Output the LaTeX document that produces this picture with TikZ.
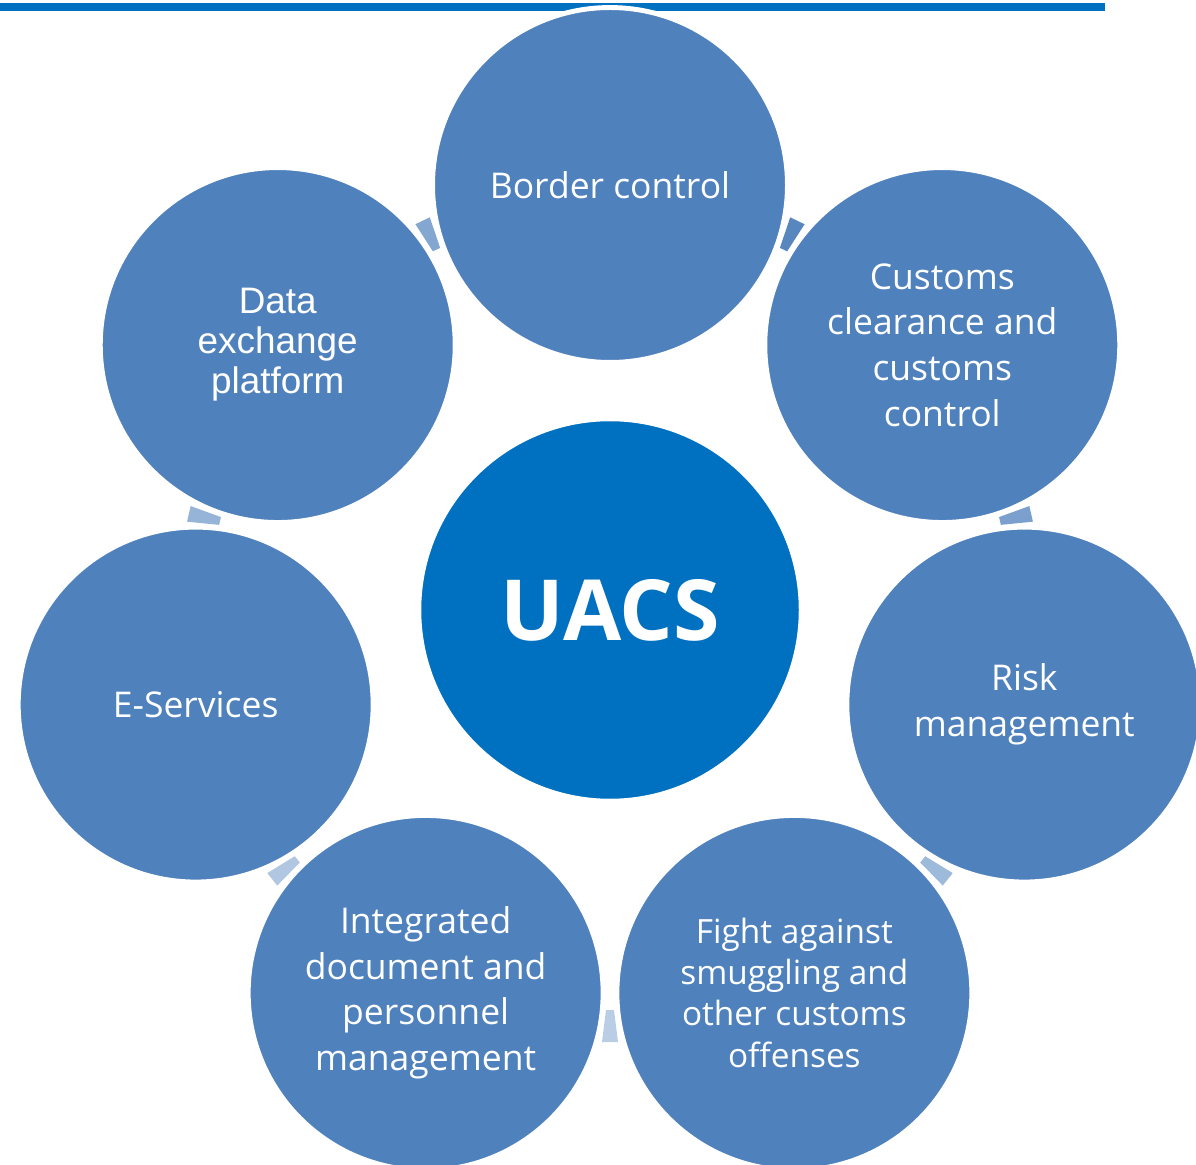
\documentclass[tikz,border=0pt]{standalone}
\usepackage{fontspec}
\setmainfont{Open Sans}
\newfontfamily\arialfont{Liberation Sans}
\usepackage{tikz}
\usetikzlibrary{calc}
\definecolor{ringblue}{HTML}{4F81BD}
\definecolor{hubblue}{HTML}{0070C0}

\begin{document}
\begin{tikzpicture}[x=0.02cm,y=0.02cm]
    \tikzstyle{every node}=[text=white, align=center]
    \tikzstyle{topic}=[circle, fill=ringblue, draw=white, line width=2.8pt, minimum size=7.1cm, inner sep=0pt, font=\fontsize{20.2}{26}\selectfont]
    \useasboundingbox (0,0) rectangle (1196,1164);
    \fill[hubblue] (0,1153) rectangle (1105,1161);
    \node[circle, fill=hubblue, draw=white, line width=2.8pt, minimum size=7.65cm, inner sep=0pt, font=\fontsize{48}{48}\selectfont\bfseries] (hub) at (610,554) {UACS};
    \foreach \a/\c in {64.29/95, 12.86/75, -38.57/55, -90/40, -141.43/45, 167.14/60, 115.71/70}
        \fill[ringblue!\c] ($(hub)+(\a:400)+(\a+90:4)$) -- ($(hub)+(\a:432)+(\a+90:8)$)
            -- ($(hub)+(\a:432)+(\a-90:8)$) -- ($(hub)+(\a:400)+(\a-90:4)$) -- cycle;
    \node[topic] (border) at ($(hub)+(90:425)$) {Border control};
    \node[topic] (clear) at ($(hub)+(38.57:425)$) {Customs\\clearance and\\customs\\control};
    \node[topic] (risk) at ($(hub)+(-12.86:425)$) {Risk\\management};
    \node[topic, font=\fontsize{19}{23.4}\selectfont] (fight) at ($(hub)+(-64.29:425)$) {Fight against\\smuggling and\\other customs\\offenses};
    \node[topic] (docs) at ($(hub)+(-115.71:425)$) {Integrated\\document and\\personnel\\management};
    \node[topic] (eserv) at ($(hub)+(-167.14:425)$) {E-Services};
    \node[topic, font=\arialfont\fontsize{21}{22.8}\selectfont] (data) at ($(hub)+(141.43:425)$) {Data\\exchange\\platform};
\end{tikzpicture}
\end{document}
